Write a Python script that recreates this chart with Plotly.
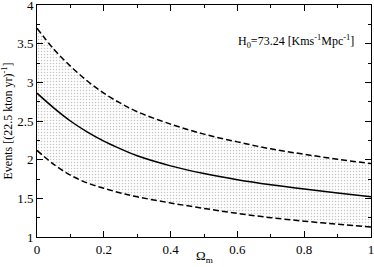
import plotly.graph_objects as go

omega = [0.0, 0.05, 0.1, 0.15, 0.2, 0.25, 0.3, 0.4, 0.5, 0.6, 0.7, 0.8, 0.9, 1.0]
events_central = [2.86, 2.67, 2.50, 2.36, 2.24, 2.14, 2.05, 1.92, 1.82, 1.74, 1.675, 1.62, 1.57, 1.52]
events_upper = [3.70, 3.43, 3.21, 3.02, 2.86, 2.73, 2.62, 2.46, 2.33, 2.23, 2.14, 2.07, 2.005, 1.95]
events_lower = [2.12, 1.94, 1.80, 1.70, 1.63, 1.57, 1.52, 1.44, 1.37, 1.305, 1.25, 1.205, 1.165, 1.13]

x_ticks = [0, 0.2, 0.4, 0.6, 0.8, 1]
x_ticklabels = ["0", "0.2", "0.4", "0.6", "0.8", "1"]
y_ticks = [1, 1.5, 2, 2.5, 3, 3.5, 4]
y_ticklabels = ["1", "1.5", "2", "2.5", "3", "3.5", "4"]

font_family = "Liberation Serif"

fig = go.Figure()
fig.add_trace(go.Scatter(x=omega, y=events_lower, mode="lines",
                         line=dict(color="black", width=1.5, dash="6px,3px", shape="spline"),
                         showlegend=False))
fig.add_trace(go.Scatter(x=omega, y=events_upper, mode="lines",
                         line=dict(color="black", width=1.5, dash="6px,3px", shape="spline"),
                         fill="tonexty", fillcolor="rgba(0,0,0,0)",
                         fillpattern=dict(shape=".", fgcolor="#8a8a8a", bgcolor="white", size=3, solidity=0.2),
                         showlegend=False))
fig.add_trace(go.Scatter(x=omega, y=events_central, mode="lines",
                         line=dict(color="black", width=1.5, shape="spline"),
                         showlegend=False))

fig.add_annotation(x=0.776, y=3.53, xref="x", yref="y",
                   text="H<sub>0</sub>=73.24 [Kms<sup>-1</sup>Mpc<sup>-1</sup>]",
                   showarrow=False, font=dict(family=font_family, size=12, color="black"))

fig.add_annotation(x=0.5, y=-0.085, xref="paper", yref="paper",
                   text="Ω<sub>m</sub>", showarrow=False, yanchor="middle",
                   font=dict(family=font_family, size=13, color="black"))

axis_common = dict(showline=True, linecolor="black", linewidth=1, mirror="allticks",
                   ticks="inside", ticklen=6, tickcolor="black", showgrid=False, zeroline=False,
                   ticklabeloverflow="allow",
                   tickfont=dict(family=font_family, size=13, color="black"))

fig.update_xaxes(range=[0, 1], tickvals=x_ticks, ticktext=x_ticklabels,
                 minor=dict(ticks="inside", dtick=0.1, ticklen=3, tickcolor="black", showgrid=False),
                 **axis_common)
fig.update_yaxes(range=[1, 4], tickvals=y_ticks, ticktext=y_ticklabels,
                 minor=dict(ticks="inside", dtick=0.25, ticklen=3, tickcolor="black", showgrid=False),
                 title=dict(text="Events [(22.5 kton yr)<sup>-1</sup>]",
                            font=dict(family=font_family, size=12, color="black"), standoff=4),
                 **axis_common)

fig.update_layout(width=374, height=267, margin=dict(l=37, r=3, t=5, b=30, autoexpand=False),
                  font=dict(family=font_family, color="black"),
                  plot_bgcolor="white", paper_bgcolor="white")

fig.write_html("out.html", config={"displayModeBar": False},
               post_script="document.body.style.margin='0';document.body.style.padding='0';document.body.style.overflow='hidden';")
